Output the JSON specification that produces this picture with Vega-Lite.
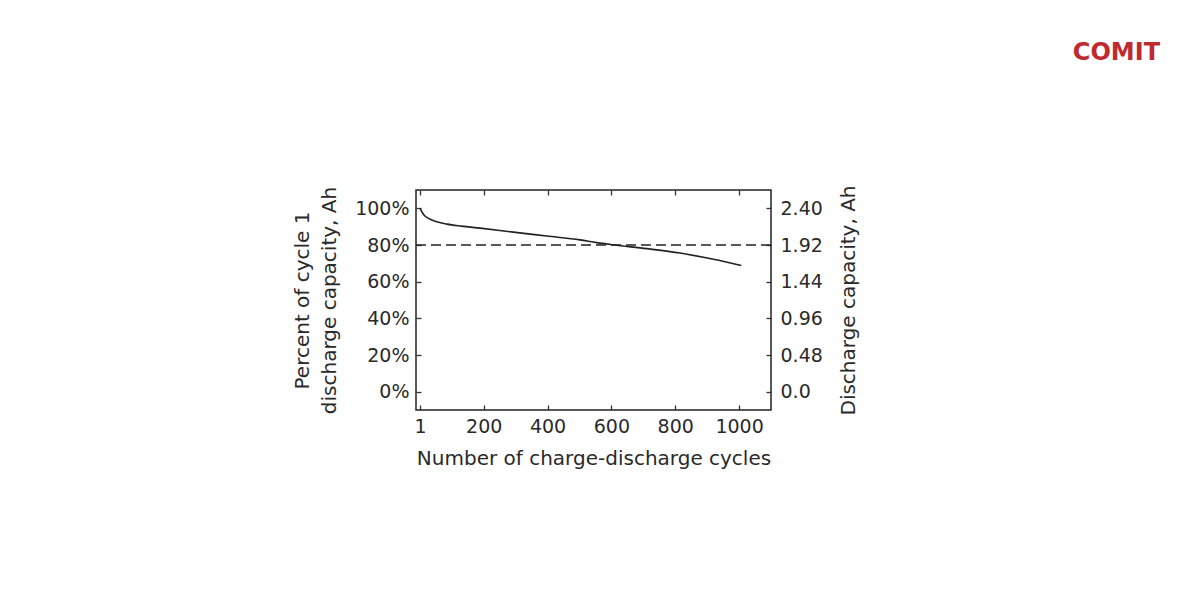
{
  "$schema": "https://vega.github.io/schema/vega-lite/v6.json",
  "autosize": {"type": "none"},
  "padding": {"left": 416, "top": 190, "right": 429, "bottom": 190},
  "width": 355,
  "height": 220,
  "background": "white",
  "title": {
    "text": "COMIT",
    "anchor": "end",
    "frame": "group",
    "dx": 389,
    "dy": -116,
    "font": "DejaVu Sans",
    "fontSize": 24,
    "fontWeight": "bold",
    "color": "#be2a30",
    "limit": 0
  },
  "config": {
    "view": {"stroke": "#222222", "strokeWidth": 1.5},
    "font": "DejaVu Sans",
    "axis": {
      "domain": false,
      "grid": false,
      "tickColor": "#333333",
      "tickSize": 5,
      "offset": -5,
      "tickWidth": 1.3,
      "labelFont": "DejaVu Sans",
      "labelFontSize": 19,
      "labelColor": "#2a2a2a",
      "titleFont": "DejaVu Sans",
      "titleFontSize": 20,
      "titleFontWeight": "normal",
      "titleColor": "#2a2a2a"
    }
  },
  "datasets": {
    "capacity": [
      {"cycle": 1, "pct": 100},
      {"cycle": 6, "pct": 98.2},
      {"cycle": 13, "pct": 96.4},
      {"cycle": 27, "pct": 94.5},
      {"cycle": 53, "pct": 92.7},
      {"cycle": 85, "pct": 91.4},
      {"cycle": 130, "pct": 90.3},
      {"cycle": 189, "pct": 89.2},
      {"cycle": 293, "pct": 87.0},
      {"cycle": 398, "pct": 84.9},
      {"cycle": 502, "pct": 82.8},
      {"cycle": 554, "pct": 81.3},
      {"cycle": 606, "pct": 80.1},
      {"cycle": 711, "pct": 78.0},
      {"cycle": 815, "pct": 75.6},
      {"cycle": 920, "pct": 72.2},
      {"cycle": 1007, "pct": 68.8}
    ],
    "threshold": [{"pct": 80}]
  },
  "layer": [
    {
      "data": {"name": "capacity"},
      "mark": {"type": "line", "color": "#222222", "strokeWidth": 1.6, "interpolate": "monotone"},
      "encoding": {
        "x": {
          "field": "cycle",
          "type": "quantitative",
          "scale": {"domain": [-12, 1100], "nice": false, "zero": false},
          "axis": {
            "orient": "bottom",
            "values": [1, 200, 400, 600, 800, 1000],
            "format": "d",
            "labelPadding": 7,
            "title": "Number of charge-discharge cycles",
            "titlePadding": 12,
            "labelFlush": false
          }
        },
        "y": {
          "field": "pct",
          "type": "quantitative",
          "scale": {"domain": [-10, 110], "nice": false, "zero": false},
          "axis": {
            "orient": "left",
            "values": [0, 20, 40, 60, 80, 100],
            "labelExpr": "datum.value + '%'",
            "labelPadding": 7,
            "title": ["Percent of cycle 1", "discharge capacity, Ah"],
            "titlePadding": 15,
            "titleLineHeight": 27
          }
        }
      }
    },
    {
      "data": {"name": "threshold"},
      "mark": {"type": "rule", "color": "#222222", "strokeWidth": 1.5, "strokeDash": [10, 5]},
      "encoding": {
        "y": {
          "field": "pct",
          "type": "quantitative",
          "scale": {"domain": [-10, 110], "nice": false, "zero": false},
          "axis": {
            "orient": "right",
            "values": [0, 20, 40, 60, 80, 100],
            "labelExpr": "datum.value == 0 ? '0.0' : format(datum.value * 0.024, '.2f')",
            "labelPadding": 9,
            "title": "Discharge capacity, Ah",
            "titleAngle": -90,
            "titleBaseline": "bottom",
            "titlePadding": 36
          }
        }
      }
    },
    {
      "data": {"name": "capacity"},
      "mark": {"type": "point", "opacity": 0},
      "encoding": {
        "x": {
          "field": "cycle",
          "type": "quantitative",
          "scale": {"domain": [-12, 1100], "nice": false, "zero": false},
          "axis": {
            "orient": "top",
            "values": [1, 200, 400, 600, 800, 1000],
            "labels": false,
            "title": null
          }
        },
        "y": {
          "field": "pct",
          "type": "quantitative",
          "scale": {"domain": [-10, 110], "nice": false, "zero": false},
          "axis": null
        }
      }
    }
  ],
  "resolve": {
    "scale": {"x": "shared", "y": "shared"},
    "axis": {"x": "independent", "y": "independent"}
  }
}
